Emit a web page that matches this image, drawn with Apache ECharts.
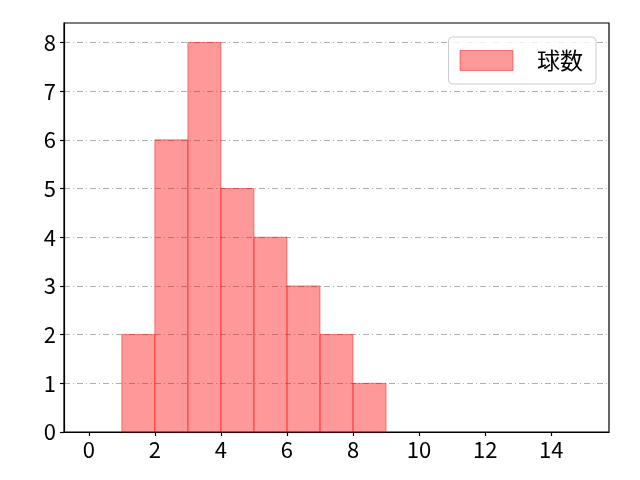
<!DOCTYPE html>
<html>
<head>
<meta charset="utf-8">
<script src="https://cdn.jsdelivr.net/npm/echarts@6/dist/echarts.min.js"></script>
<style>
  html, body { margin: 0; padding: 0; background: #fff; }
  #chart { width: 640px; height: 480px; }
</style>
</head>
<body>
<div id="chart"></div>
<script>
// ビンの境界と度数
const binEdges = [1, 2, 3, 4, 5, 6, 7, 8, 9];
const counts = [2, 6, 8, 5, 4, 3, 2, 1];
const seriesName = '球数';
const xTicks = [0, 2, 4, 6, 8, 10, 12, 14];
const yTicks = [0, 1, 2, 3, 4, 5, 6, 7, 8];

const font = '"Noto Sans CJK JP", "DejaVu Sans", sans-serif';
const fillColor = 'rgba(255, 0, 0, 0.4)';
const edgeColor = 'rgba(255, 0, 0, 0.45)';

const histData = counts.map(function (c, i) {
	return [binEdges[i], binEdges[i + 1], c];
});

const chart = echarts.init(document.getElementById('chart'));
const option = {
	animation: false,
	grid: {
		left: 64,
		right: 31,
		top: 23,
		bottom: 48,
		show: true,
		borderColor: '#000',
		borderWidth: 1.2,
		containLabel: false
	},
	legend: {
		show: true,
		data: [{ name: seriesName, icon: 'rect' }],
		right: 44,
		top: 37,
		itemWidth: 53,
		itemHeight: 20,
		padding: [12, 13, 12, 11],
		borderColor: '#cccccc',
		borderWidth: 1,
		borderRadius: 4,
		backgroundColor: 'rgba(255,255,255,0.8)',
		itemStyle: { color: fillColor, borderColor: edgeColor, borderWidth: 1 },
		textStyle: {
			fontFamily: font,
			fontSize: 23,
			color: '#000',
			padding: [0, 0, 0, 19]
		}
	},
	xAxis: {
		type: 'value',
		min: -0.75,
		max: 15.75,
		interval: 2,
		axisLine: { show: true, onZero: false, lineStyle: { color: '#000', width: 1.2 } },
		axisTick: { show: true, length: 4, lineStyle: { color: '#000', width: 1.2 }, customValues: xTicks },
		axisLabel: {
			fontFamily: font,
			fontSize: 22,
			color: '#000',
			margin: 7,
			customValues: xTicks
		},
		splitLine: { show: false }
	},
	yAxis: {
		type: 'value',
		min: 0,
		max: 8.4,
		interval: 1,
		axisLine: { show: true, onZero: false, lineStyle: { color: '#000', width: 1.2 } },
		axisTick: { show: true, length: 4, lineStyle: { color: '#000', width: 1.2 }, customValues: yTicks },
		axisLabel: {
			fontFamily: font,
			fontSize: 22,
			color: '#000',
			margin: 8,
			customValues: yTicks
		},
		splitLine: {
			show: true,
			lineStyle: { color: '#b0b0b0', width: 1, type: [6, 3, 1, 3] }
		}
	},
	series: [{
		name: seriesName,
		type: 'custom',
		itemStyle: { color: fillColor, borderColor: edgeColor, borderWidth: 1 },
		encode: { x: [0, 1], y: 2 },
		data: histData,
		renderItem: function (params, api) {
			const p0 = api.coord([api.value(0), api.value(2)]);
			const p1 = api.coord([api.value(1), 0]);
			return {
				type: 'rect',
				shape: { x: p0[0], y: p0[1], width: p1[0] - p0[0], height: p1[1] - p0[1] },
				style: { fill: fillColor, stroke: edgeColor, lineWidth: 1 }
			};
		}
	}]
};
chart.setOption(option);
</script>
</body>
</html>
